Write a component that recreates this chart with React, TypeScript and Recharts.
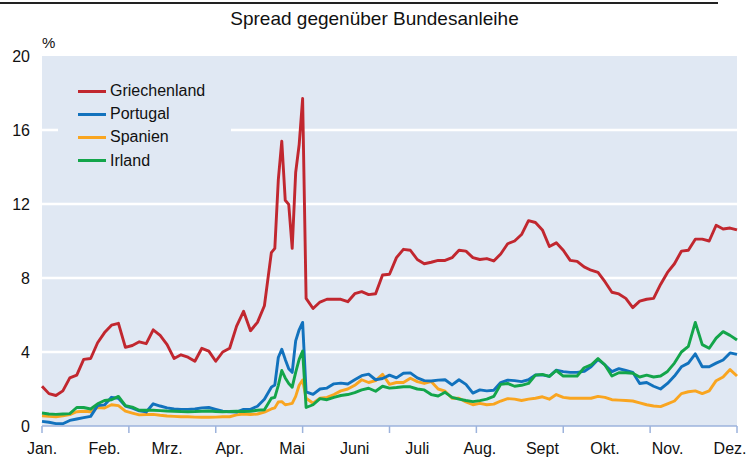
import { Line, LineChart, ReferenceArea, ReferenceLine, XAxis, YAxis } from 'recharts';

// x position in "steps" across the year (0 = Jan. start, 100 = end of chart)
const steps = [
  0, 1, 2, 3, 4, 5, 6, 7, 8, 9, 10, 11, 12, 13, 14, 15, 16, 17, 18, 19, 20, 21, 22, 23, 24, 25, 26, 27, 28, 29,
  30, 31, 32, 33, 33.5, 34, 34.5, 35, 35.5, 36, 36.5, 37, 37.5, 38, 39, 40, 41, 42, 43, 44, 45, 46, 47, 48, 49,
  50, 51, 52, 53, 54, 55, 56, 57, 58, 59, 60, 61, 62, 63, 64, 65, 66, 67, 68, 69, 70, 71, 72, 73, 74, 75, 76,
  77, 78, 79, 80, 81, 82, 83, 84, 85, 86, 87, 88, 89, 90, 91, 92, 93, 94, 95, 96, 97, 98, 99, 100,
];

const griechenland = [
  2.15, 1.75, 1.65, 1.9, 2.6, 2.75, 3.6, 3.65, 4.5, 5.05, 5.45, 5.55, 4.25, 4.35, 4.55, 4.45, 5.2, 4.9, 4.4, 3.65,
  3.85, 3.72, 3.5, 4.2, 4.05, 3.5, 4.0, 4.2, 5.4, 6.2, 5.15, 5.6, 6.5, 9.37, 9.6, 13.3, 15.4, 12.2, 11.98, 9.6,
  13.7, 15.2, 17.7, 6.9, 6.35, 6.7, 6.85, 6.85, 6.85, 6.72, 7.15, 7.26, 7.1, 7.15, 8.16, 8.2, 9.1, 9.55, 9.5, 9.0,
  8.77, 8.85, 8.95, 8.95, 9.1, 9.5, 9.45, 9.1, 9.0, 9.05, 8.92, 9.3, 9.85, 10.0, 10.35, 11.1, 11.0, 10.6, 9.7,
  9.9, 9.5, 8.95, 8.9, 8.6, 8.42, 8.3, 7.8, 7.23, 7.14, 6.9, 6.4, 6.75, 6.85, 6.9, 7.65, 8.3, 8.77, 9.45, 9.5,
  10.1, 10.1, 10.0, 10.85, 10.65, 10.7, 10.6,
];

const portugal = [
  0.25, 0.2, 0.13, 0.12, 0.3, 0.38, 0.45, 0.52, 1.1, 1.14, 1.55, 1.5, 1.08, 0.97, 0.82, 0.76, 1.2, 1.08, 0.98,
  0.92, 0.9, 0.9, 0.92, 0.98, 1.0, 0.9, 0.8, 0.77, 0.75, 0.9, 0.9, 1.07, 1.45, 2.1, 2.22, 3.7, 4.15, 3.6, 3.1,
  2.9, 4.6, 5.2, 5.6, 1.85, 1.71, 2.0, 2.05, 2.28, 2.32, 2.27, 2.5, 2.72, 2.8, 2.5, 2.57, 2.75, 2.6, 2.85, 2.87,
  2.6, 2.45, 2.43, 2.48, 2.5, 2.22, 2.5, 2.25, 1.78, 1.95, 1.9, 1.93, 2.35, 2.48, 2.45, 2.4, 2.5, 2.76, 2.76,
  2.68, 3.02, 2.94, 2.9, 2.9, 2.95, 3.2, 3.6, 3.3, 2.94, 3.1, 3.0, 2.9, 2.3, 2.35, 2.15, 2.0, 2.3, 2.7, 3.2,
  3.4, 3.9, 3.2, 3.2, 3.4, 3.57, 3.95, 3.87,
];

const spanien = [
  0.55, 0.52, 0.5, 0.55, 0.62, 0.77, 0.8, 0.77, 1.0, 0.97, 1.15, 1.1, 0.8, 0.7, 0.6, 0.62, 0.63, 0.58, 0.54,
  0.52, 0.5, 0.5, 0.48, 0.47, 0.47, 0.48, 0.5, 0.5, 0.6, 0.65, 0.62, 0.65, 0.75, 0.92, 0.98, 1.3, 1.32, 1.15,
  1.18, 1.22, 1.6, 2.2, 2.49, 1.5, 1.23, 1.5, 1.55, 1.7, 1.9, 2.0, 2.2, 2.5, 2.35, 2.45, 2.8, 2.25, 2.35, 2.35,
  2.58, 2.4, 2.3, 2.4, 2.0, 1.88, 1.5, 1.5, 1.3, 1.15, 1.22, 1.15, 1.18, 1.35, 1.48, 1.45, 1.38, 1.45, 1.5,
  1.58, 1.45, 1.7, 1.55, 1.5, 1.5, 1.5, 1.5, 1.6, 1.55, 1.42, 1.4, 1.38, 1.35, 1.25, 1.15, 1.08, 1.05, 1.2,
  1.35, 1.75, 1.85, 1.9, 1.75, 1.9, 2.45, 2.65, 3.05, 2.7,
];

const irland = [
  0.7, 0.65, 0.63, 0.65, 0.67, 1.0, 1.0, 0.92, 1.2, 1.38, 1.42, 1.6, 1.1, 1.02, 0.85, 0.85, 0.85, 0.83, 0.81,
  0.8, 0.78, 0.77, 0.78, 0.8, 0.81, 0.78, 0.77, 0.78, 0.8, 0.78, 0.8, 0.85, 0.88, 1.5, 1.55, 2.2, 3.0, 2.6, 2.3,
  2.1, 2.9, 3.6, 4.05, 1.0, 1.15, 1.48, 1.42, 1.55, 1.65, 1.7, 1.8, 1.95, 2.04, 1.88, 2.15, 2.05, 2.08, 2.12,
  2.12, 2.0, 1.95, 1.7, 1.62, 1.82, 1.55, 1.45, 1.38, 1.32, 1.37, 1.45, 1.6, 2.25, 2.3, 2.15, 2.2, 2.3, 2.75,
  2.79, 2.68, 3.0, 2.7, 2.7, 2.7, 3.15, 3.3, 3.65, 3.3, 2.7, 2.88, 2.88, 2.85, 2.65, 2.75, 2.65, 2.7, 2.95, 3.4,
  4.0, 4.3, 5.6, 4.4, 4.2, 4.75, 5.1, 4.9, 4.65,
];

const months = ['Jan.', 'Feb.', 'Mrz.', 'Apr.', 'Mai', 'Juni', 'Juli', 'Aug.', 'Sept', 'Okt.', 'Nov.', 'Dez.'];
const monthPos = [0, 9, 18, 27, 36, 45, 54, 63, 72, 81, 90, 99];
const tickMarks = [0, 12.5, 25, 37.5, 50, 62.5, 75, 87.5, 100];
const yTicks = [0, 4, 8, 12, 16, 20];
const gridValues = [4, 8, 12, 16];

const series = [
  { key: 'Griechenland', values: griechenland, color: '#c1272f' },
  { key: 'Portugal', values: portugal, color: '#1272bd' },
  { key: 'Spanien', values: spanien, color: '#f9a520' },
  { key: 'Irland', values: irland, color: '#13a54a' },
];
// draw order (back to front)
const drawOrder = ['Spanien', 'Portugal', 'Irland', 'Griechenland'];

const PLOT_BG = '#e0e8f3';
const AXIS_COLOR = '#9db3dc';

const data = steps.map((s, i) => {
  const row: Record<string, number> = { t: s };
  series.forEach((ser) => {
    row[ser.key] = ser.values[i];
  });
  return row;
});

const allXTicks = Array.from(new Set([...monthPos, ...tickMarks])).sort((a, b) => a - b);

const MonthTick = (props: any) => {
  const { x, y, payload } = props;
  const v = payload.value;
  const mi = monthPos.indexOf(v);
  const isMark = tickMarks.includes(v);
  return (
    <g>
      {isMark && (
        <line x1={x} x2={x} y1={y - 17} y2={y - 10} stroke={AXIS_COLOR} strokeWidth={1.5} />
      )}
      {mi >= 0 && (
        <text x={x} y={y} dy="0.71em" textAnchor="middle" fontSize={16} fill="#111">
          {months[mi]}
        </text>
      )}
    </g>
  );
};

export default function App() {
  return (
    <div
      style={{
        position: 'absolute',
        left: 0,
        top: 0,
        width: 749,
        height: 459,
        background: '#fff',
        fontFamily: 'Arial, "Liberation Sans", sans-serif',
        overflow: 'hidden',
      }}
    >
      <div style={{ position: 'absolute', left: 0, top: 2, width: 718, height: 2, background: '#222' }} />
      <div
        style={{
          position: 'absolute',
          left: 0,
          width: 749,
          top: 8,
          textAlign: 'center',
          fontSize: 19,
          color: '#111',
        }}
      >
        Spread gegenüber Bundesanleihe
      </div>
      <div style={{ position: 'absolute', left: 42, top: 34, fontSize: 15, color: '#111' }}>%</div>

      <LineChart width={749} height={459} data={data} margin={{ top: 56, right: 12, bottom: 0, left: 0 }}>
        <XAxis
          dataKey="t"
          type="number"
          domain={[0, 100]}
          ticks={allXTicks}
          interval={0}
          height={33}
          tickLine={false}
          tickSize={13}
          tickMargin={4}
          axisLine={{ stroke: AXIS_COLOR, strokeWidth: 1.5 }}
          tick={<MonthTick />}
        />
        <YAxis
          type="number"
          domain={[0, 20]}
          ticks={yTicks}
          width={42}
          axisLine={false}
          tickLine={false}
          tickSize={6}
          tickMargin={6}
          tick={{ fontSize: 16, fill: '#111' }}
        />
        <ReferenceArea x1={0} x2={100} y1={0} y2={20} fill={PLOT_BG} fillOpacity={1} stroke="none" />
        {gridValues.map((g) => (
          <ReferenceLine key={g} y={g} stroke="#fff" strokeWidth={2.5} />
        ))}
        {drawOrder.map((name) => {
          const s = series.find((x) => x.key === name)!;
          return (
            <Line
              key={name}
              dataKey={name}
              type="linear"
              stroke={s.color}
              strokeWidth={2.9}
              dot={false}
              strokeLinejoin="round"
              isAnimationActive={false}
            />
          );
        })}
      </LineChart>

      <div
        style={{
          position: 'absolute',
          left: 58,
          top: 76,
          width: 173,
          height: 100,
          background: PLOT_BG,
        }}
      >
        {series.map((s, i) => (
          <div
            key={s.key}
            style={{ position: 'absolute', left: 20, top: 4 + i * 23.2, height: 22, display: 'flex', alignItems: 'center' }}
          >
            <div style={{ width: 28, height: 3, background: s.color }} />
            <span style={{ marginLeft: 4, fontSize: 16, color: '#111' }}>{s.key}</span>
          </div>
        ))}
      </div>
    </div>
  );
}
